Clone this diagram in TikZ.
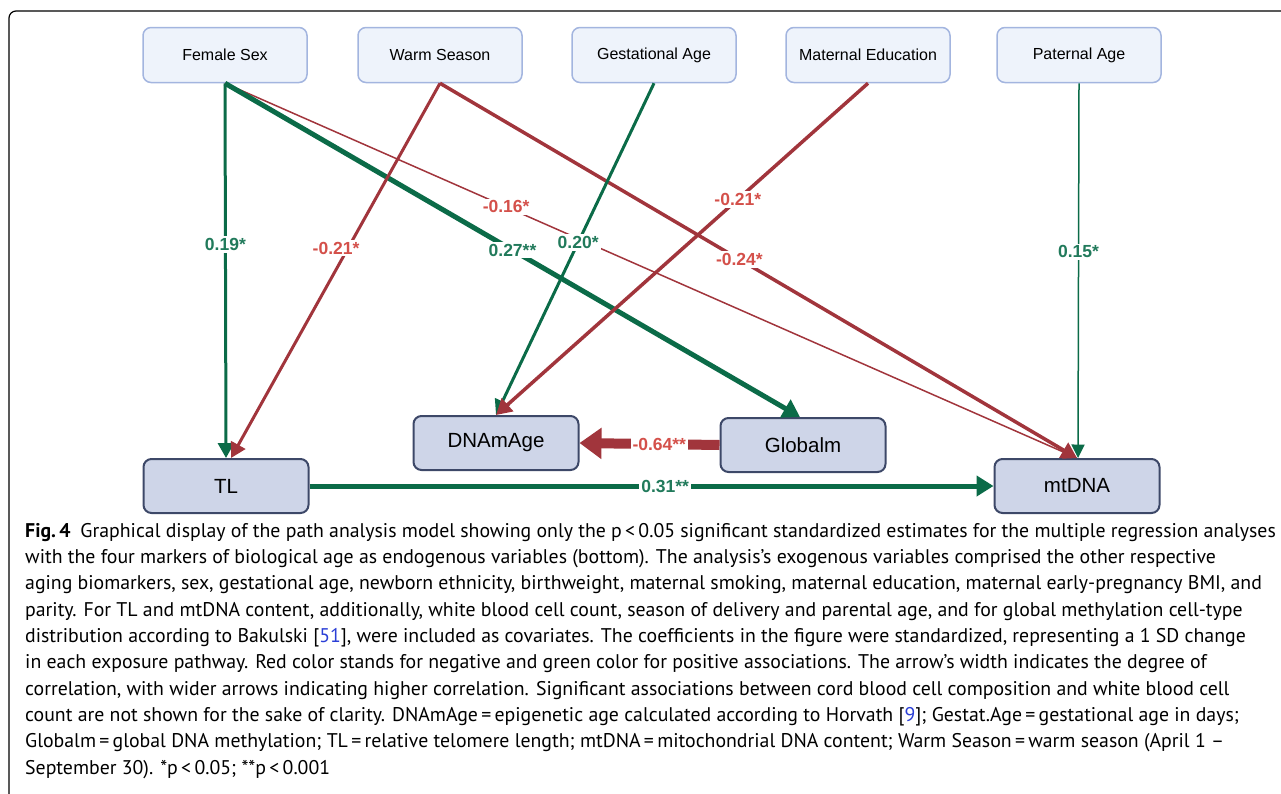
\documentclass[tikz,border=0pt]{standalone}
\usepackage{fontspec}
\setmainfont{Liberation Sans}
\newfontfamily\capfont[Ligatures=TeX]{PT Sans}
\usetikzlibrary{arrows.meta,positioning}

\definecolor{exofill}{HTML}{EEF3FB}
\definecolor{exoline}{HTML}{A3B5DF}
\definecolor{endofill}{HTML}{CED5E8}
\definecolor{endoline}{HTML}{3D4868}
\definecolor{posline}{HTML}{0B6B48}
\definecolor{negline}{HTML}{A1353C}
\definecolor{postext}{HTML}{217A5B}
\definecolor{negtext}{HTML}{D4504A}
\definecolor{citeblue}{HTML}{2B3FD6}

\tikzset{>={Triangle[length=12pt 1,width=10pt 2]}}
\tikzset{
  exo/.style={draw=exoline, fill=exofill, line width=1.5pt, rounded corners=8pt,
    minimum width=164pt, minimum height=55pt, font=\fontsize{16}{19}\selectfont},
  endo/.style={draw=endoline, fill=endofill, line width=2pt, rounded corners=8pt,
    minimum width=165pt, minimum height=54pt, font=\fontsize{20.5}{24}\selectfont},
  posarrow/.style={->, draw=posline, line width=#1},
  negarrow/.style={->, draw=negline, line width=#1},
  poslabel/.style={fill=white, inner sep=2pt, text=postext, font=\bfseries\fontsize{17.5}{17.5}\selectfont},
  neglabel/.style={fill=white, inner sep=2pt, text=negtext, font=\bfseries\fontsize{17.5}{17.5}\selectfont}
}

\begin{document}
\begin{tikzpicture}[x=1pt, y=-1pt]
  \useasboundingbox (0,0) rectangle (1281,793);
  \draw[line width=1.2pt, rounded corners=7pt] (1285,11) -- (9,11) -- (9,800);

  % exogenous variables
  \node[exo] (fsex) at (225,55) {Female Sex};
  \node[exo] (warm) at (440,55) {Warm Season};
  \node[exo] (gest) at (654,55) {Gestational Age};
  \node[exo] (medu) at (868,55) {Maternal Education};
  \node[exo] (page) at (1079,55) {Paternal Age};

  % endogenous variables
  \node[endo] (tl) at (226,486) {TL};
  \node[endo] (dnam) at (496,443) {DNAmAge};
  \node[endo] (glob) at (803,445) {Globalm};
  \node[endo] (mtdna) at (1077,486) {mtDNA};

  % paths
  \draw[posarrow=3pt] (fsex.south) -- (tl.north) node[poslabel, pos=0.43] {0.19*};
  \draw[negarrow=1.5pt] (fsex.south) -- (mtdna.north) node[neglabel, pos=0.33] {-0.16*};
  \draw[posarrow=5pt] (fsex.south) -- ([xshift=-3pt]glob.north) node[poslabel, pos=0.5] {0.27**};
  \draw[negarrow=3pt] (warm.south) -- ([xshift=5pt]tl.north) node[neglabel, pos=0.44, xshift=-12pt] {-0.21*};
  \draw[negarrow=3.5pt] (warm.south) -- (mtdna.north) node[neglabel, pos=0.47] {-0.24*};
  \draw[posarrow=3pt] (gest.south) -- (dnam.north) node[poslabel, pos=0.48] {0.20*};
  \draw[negarrow=3.5pt] (medu.south) -- (dnam.north) node[neglabel, pos=0.35] {-0.21*};
  \draw[posarrow=1.5pt] (page.south) -- ([xshift=1pt]mtdna.north) node[poslabel, pos=0.45] {0.15*};
  \draw[negarrow=10pt] (glob.west) -- (dnam.east) node[neglabel, pos=0.43] {-0.64**};
  \draw[posarrow=5pt] (tl.east) -- (mtdna.west) node[poslabel, pos=0.52] {0.31**};

  % caption
  \node[anchor=north west, align=left, inner sep=0pt, font=\capfont\fontsize{19.8}{26.3}\selectfont] (caption) at (25,523)
  {\textbf{Fig.\,4}\enspace Graphical display of the path analysis model showing only the p\,<\,0.05 significant standardized estimates for the multiple regression analyses\\
  with the four markers of biological age as endogenous variables (bottom). The analysis’s exogenous variables comprised the other respective\\
  aging biomarkers, sex, gestational age, newborn ethnicity, birthweight, maternal smoking, maternal education, maternal early-pregnancy BMI, and\\
  parity. For TL and mtDNA content, additionally, white blood cell count, season of delivery and parental age, and for global methylation cell-type\\
  distribution according to Bakulski [\textcolor{citeblue}{51}], were included as covariates. The coefficients in the figure were standardized, representing a 1 SD change\\
  in each exposure pathway. Red color stands for negative and green color for positive associations. The arrow’s width indicates the degree of\\
  correlation, with wider arrows indicating higher correlation. Significant associations between cord blood cell composition and white blood cell\\
  count are not shown for the sake of clarity. DNAmAge\,=\,epigenetic age calculated according to Horvath [\textcolor{citeblue}{9}]; Gestat.Age\,=\,gestational age in days;\\
  Globalm\,=\,global DNA methylation; TL\,=\,relative telomere length; mtDNA\,=\,mitochondrial DNA content; Warm Season\,=\,warm season (April 1 –\\
  September 30). *p\,<\,0.05; **p\,<\,0.001};
\end{tikzpicture}
\end{document}
